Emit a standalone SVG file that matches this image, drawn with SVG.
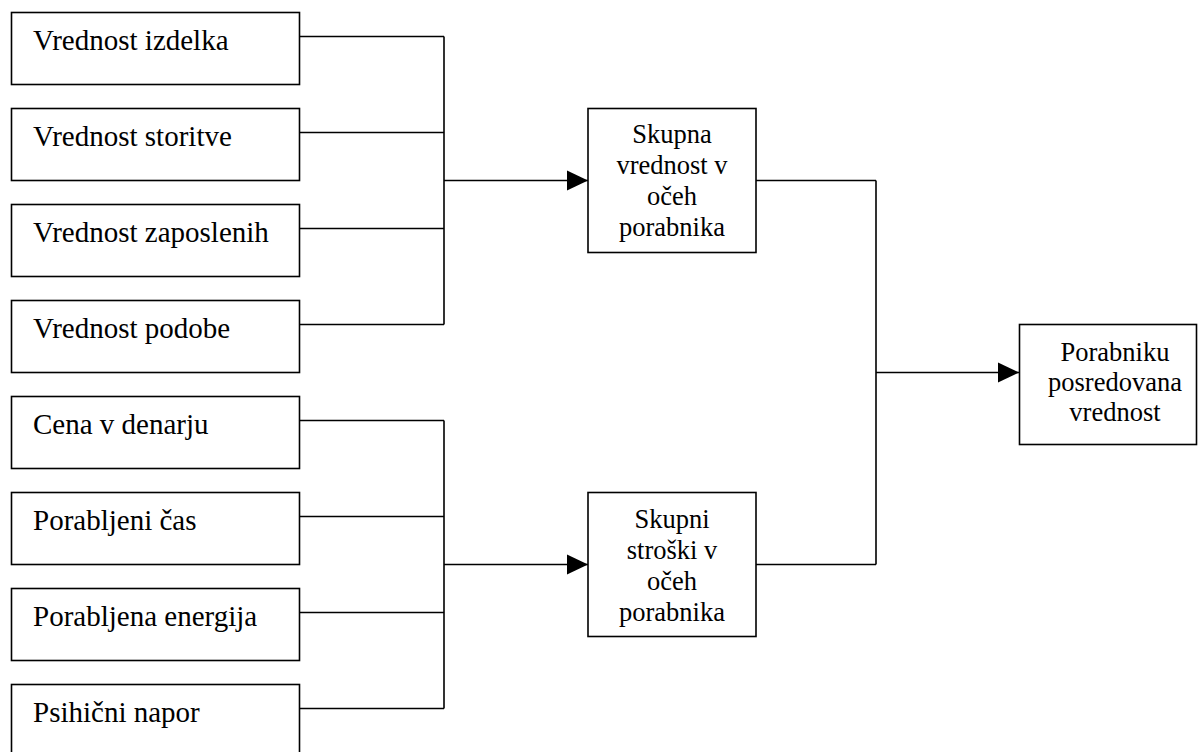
<svg xmlns="http://www.w3.org/2000/svg" width="1199" height="752" viewBox="0 0 1199 752">
<defs>
<style>
.box{fill:#fff;stroke:#000;stroke-width:1.6}
.ln{fill:none;stroke:#000;stroke-width:1.6}
text{font-family:'Liberation Serif','Times New Roman',serif;fill:#000}
.tl{font-size:29px}
.tc{font-size:26.5px;text-anchor:middle}
</style>
<marker id="arr" markerUnits="userSpaceOnUse" markerWidth="22" markerHeight="22" viewBox="0 0 22 22" refX="21" refY="11" orient="auto">
<path d="M0,1 L21,11 L0,21 Z" fill="#000"/>
</marker>
</defs>
<rect width="1199" height="752" fill="#fff"/>
<g id="connectors">
<path class="ln" d="M300,36.5 H444 M300,132.5 H444 M300,228.5 H444 M300,324.5 H444 M444,36.5 V324.5"/>
<path class="ln" d="M444,180.5 H588" marker-end="url(#arr)"/>
<path class="ln" d="M300,420.5 H444 M300,516.5 H444 M300,612.5 H444 M300,708.5 H444 M444,420.5 V708.5"/>
<path class="ln" d="M444,564.5 H588" marker-end="url(#arr)"/>
<path class="ln" d="M756,180.5 H876 M756,564.5 H876 M876,180.5 V564.5"/>
<path class="ln" d="M876,372.5 H1019" marker-end="url(#arr)"/>
</g>
<g id="n1"><rect class="box" x="11.5" y="12.5" width="288" height="72"/><text class="tl" x="33" y="50">Vrednost izdelka</text></g>
<g id="n2"><rect class="box" x="11.5" y="108.5" width="288" height="72"/><text class="tl" x="33" y="146">Vrednost storitve</text></g>
<g id="n3"><rect class="box" x="11.5" y="204.5" width="288" height="72"/><text class="tl" x="33" y="242">Vrednost zaposlenih</text></g>
<g id="n4"><rect class="box" x="11.5" y="300.5" width="288" height="72"/><text class="tl" x="33" y="338">Vrednost podobe</text></g>
<g id="n5"><rect class="box" x="11.5" y="396.5" width="288" height="72"/><text class="tl" x="33" y="434">Cena v denarju</text></g>
<g id="n6"><rect class="box" x="11.5" y="492.5" width="288" height="72"/><text class="tl" x="33" y="530">Porabljeni čas</text></g>
<g id="n7"><rect class="box" x="11.5" y="588.5" width="288" height="72"/><text class="tl" x="33" y="626">Porabljena energija</text></g>
<g id="n8"><rect class="box" x="11.5" y="684.5" width="288" height="72"/><text class="tl" x="33" y="722">Psihični napor</text></g>
<g id="n9"><rect class="box" x="588" y="108.5" width="168" height="144"/>
<text class="tc" x="672" y="143">Skupna</text>
<text class="tc" x="672" y="174">vrednost v</text>
<text class="tc" x="672" y="205">očeh</text>
<text class="tc" x="672" y="236">porabnika</text></g>
<g id="n10"><rect class="box" x="588" y="492.5" width="168" height="144"/>
<text class="tc" x="672" y="528">Skupni</text>
<text class="tc" x="672" y="559">stroški v</text>
<text class="tc" x="672" y="590">očeh</text>
<text class="tc" x="672" y="621">porabnika</text></g>
<g id="n11"><rect class="box" x="1019.5" y="324.5" width="177" height="120"/>
<text class="tc" x="1115" y="361">Porabniku</text>
<text class="tc" x="1115" y="391">posredovana</text>
<text class="tc" x="1115" y="421">vrednost</text></g>
</svg>
